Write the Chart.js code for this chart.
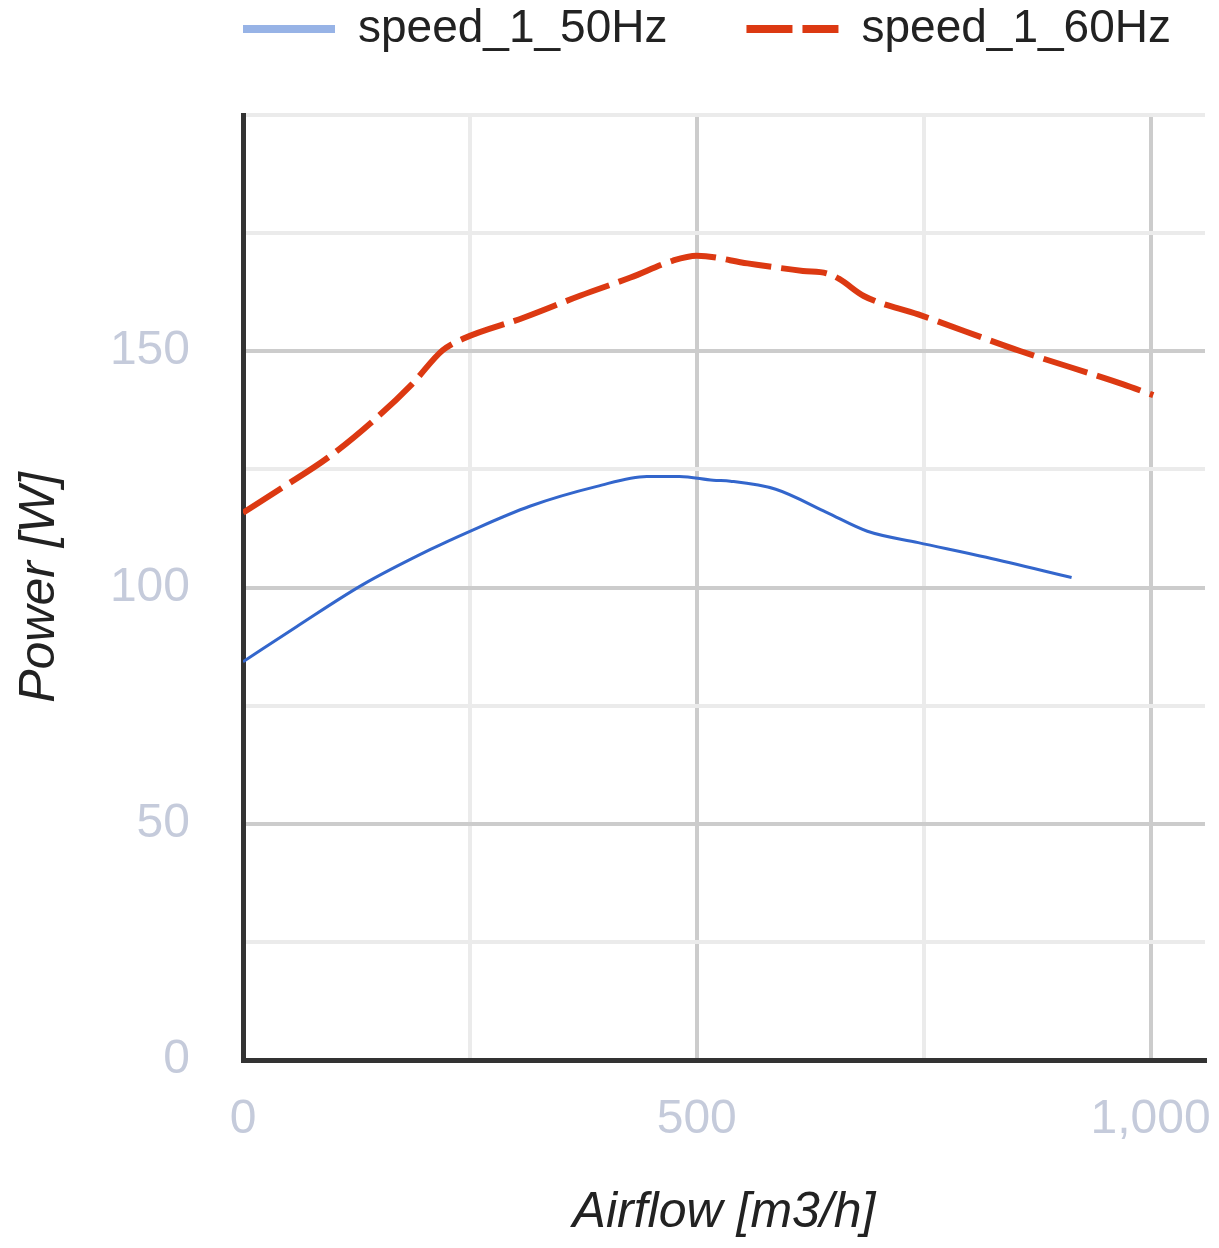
<!DOCTYPE html>
<html>
<head>
<meta charset="utf-8">
<script src="https://cdn.jsdelivr.net/npm/chart.js@4.4.0/dist/chart.umd.min.js"></script>
<style>
  html, body { margin: 0; padding: 0; background: #fff; }
  #wrap { width: 1219px; height: 1248px; }
</style>
</head>
<body>
<div id="wrap"><canvas id="powerChart"></canvas></div>
<script>
// values
const seriesNames = ['speed_1_50Hz', 'speed_1_60Hz'];

const airflow50 = [0, 59, 132, 206, 250, 316, 390, 445, 481, 518, 537, 587, 643, 688, 744, 819, 913];
const power50   = [84.3, 91.7, 100.6, 108, 111.9, 117.2, 121.4, 123.5, 123.5, 122.7, 122.5, 120.8, 115.9, 111.9, 109.5, 106.4, 102.1];

const airflow60 = [0, 43, 93, 143, 186, 220, 243, 309, 372, 427, 474, 500, 556, 617, 643, 657, 684, 744, 857, 970, 1003];
const power60   = [115.8, 121.1, 127.4, 135.2, 143, 150.2, 152.7, 157.1, 161.8, 165.6, 169.2, 170.2, 168.6, 167, 166.5, 165.3, 161.7, 157.8, 150, 143, 140.7];

const xTicks = [0, 250, 500, 750, 1000];
const xLabelled = [0, 500, 1000];
const yTicks = [0, 25, 50, 75, 100, 125, 150, 175, 200];
const yLabelled = [0, 50, 100, 150];

const toPoints = (xs, ys) => xs.map((x, i) => ({ x: x, y: ys[i] }));

Chart.defaults.font.family = '"Liberation Sans", Arial, sans-serif';

// put the legend over the plot's left edge, like the original
const legendPlacer = {
  id: 'legendPlacer',
  afterLayout(chart) {
    const lg = chart.legend;
    const pad = lg.options.labels.padding;
    lg.left = chart.chartArea.left - pad;
    lg.right = chart.width + 400;
    lg.top = 6 - pad;
  }
};

const gridColor = majors => c => majors.includes(c.tick.value) ? '#cccccc' : '#ebebeb';

const ctx = document.getElementById('powerChart').getContext('2d');
new Chart(ctx, {
  type: 'line',
  data: {
    datasets: [
      {
        label: seriesNames[0],
        data: toPoints(airflow50, power50),
        borderColor: '#3366cc',
        borderWidth: 3,
        pointRadius: 0,
        fill: false,
        cubicInterpolationMode: 'monotone'
      },
      {
        label: seriesNames[1],
        data: toPoints(airflow60, power60),
        borderColor: '#dc3912',
        borderWidth: 6,
        borderDash: [46, 10],
        pointRadius: 0,
        fill: false,
        cubicInterpolationMode: 'monotone'
      }
    ]
  },
  options: {
    responsive: true,
    maintainAspectRatio: false,
    animation: false,
    devicePixelRatio: 1,
    layout: { padding: { left: 0, right: 14, top: 0, bottom: 0 } },
    plugins: {
      legend: {
        position: 'top',
        align: 'start',
        maxHeight: 115,
        labels: {
          color: '#222222',
          font: { size: 46 },
          padding: 79,
          usePointStyle: true,
          pointStyle: 'line',
          pointStyleWidth: 92,
          generateLabels: chart => {
            const items = Chart.defaults.plugins.legend.labels.generateLabels(chart);
            const strokes = ['#97b3e6', '#dc3912'];
            const dashes = [[], [46, 10]];
            return items.map((item, i) => Object.assign(item, {
              strokeStyle: strokes[i],
              fillStyle: strokes[i],
              lineWidth: 8,
              lineDash: dashes[i],
              pointStyle: 'line'
            }));
          }
        }
      },
      tooltip: { enabled: false }
    },
    scales: {
      x: {
        type: 'linear',
        min: 0,
        max: 1060,
        afterBuildTicks: s => { s.ticks = xTicks.map(v => ({ value: v })); },
        afterFit: s => { s.height = 188; s.paddingLeft = 0; s.paddingRight = 0; },
        ticks: {
          autoSkip: false,
          maxRotation: 0,
          color: '#c5cbdb',
          font: { size: 48 },
          padding: 31,
          callback: v => xLabelled.includes(v) ? v.toLocaleString('en-US') : ''
        },
        grid: { color: gridColor([0, 500, 1000]), lineWidth: 4, drawTicks: false },
        border: { color: '#333333', width: 5 },
        title: {
          display: true,
          text: 'Airflow [m3/h]',
          color: '#222222',
          font: { size: 50, style: 'italic' },
          padding: { top: 0, bottom: 5 }
        }
      },
      y: {
        min: 0,
        max: 200,
        afterBuildTicks: s => { s.ticks = yTicks.map(v => ({ value: v })); },
        afterFit: s => { s.width = 243; },
        ticks: {
          color: '#c5cbdb',
          font: { size: 48 },
          padding: 53,
          callback: v => yLabelled.includes(v) ? String(v) : ''
        },
        grid: { color: gridColor([0, 50, 100, 150]), lineWidth: 4, drawTicks: false },
        border: { color: '#333333', width: 5 },
        title: {
          display: true,
          text: 'Power [W]',
          color: '#222222',
          font: { size: 50, style: 'italic' },
          padding: { top: 10, bottom: 0 }
        }
      }
    }
  },
  plugins: [legendPlacer]
});
</script>
</body>
</html>
